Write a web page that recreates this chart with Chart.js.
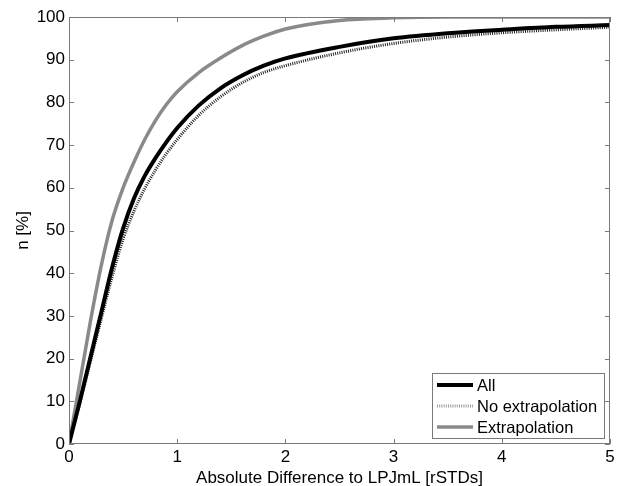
<!DOCTYPE html>
<html>
<head>
<meta charset="utf-8">
<script src="https://cdn.jsdelivr.net/npm/chart.js@4.4.1/dist/chart.umd.min.js"></script>
<style>
  html, body { margin: 0; padding: 0; background: #fff; }
  #wrap { width: 622px; height: 486px; }
</style>
</head>
<body>
<div id="wrap"><canvas id="cdf"></canvas></div>
<script>
// values
const xs = [0, 0.1, 0.2, 0.3, 0.4, 0.5, 0.6, 0.7, 0.8, 0.9, 1.0, 1.2, 1.4, 1.6, 1.8, 2.0, 2.5, 3.0, 3.5, 4.0, 4.5, 5.0];
const allVals = [0, 10, 20.5, 31, 41.5, 50.5, 57.5, 62.8, 67, 70.7, 74, 79.3, 83.3, 86.3, 88.6, 90.3, 93, 95, 96.2, 97, 97.7, 98.1];
const noExtrapVals = [0, 9.5, 19.5, 29.5, 39.3, 48, 54.5, 59.8, 64.2, 68, 71.3, 77, 81.3, 84.6, 87, 88.6, 91.6, 93.8, 95.3, 96.3, 97, 97.6];
const extrapVals = [0, 14.5, 29, 42, 52.5, 60, 66, 71.3, 75.8, 79.5, 82.5, 87, 90.4, 93.3, 95.5, 97.2, 99.2, 99.8, 100, 100, 100, 100];
const seriesNames = ["All", "No extrapolation", "Extrapolation"];
const xTicks = [0, 1, 2, 3, 4, 5];
const yTicks = [0, 10, 20, 30, 40, 50, 60, 70, 80, 90, 100];

const FONT = "'Liberation Sans', Arial, sans-serif";
const AXIS = "#7a7a7a";

const pts = (vals) => xs.map((x, i) => ({ x: x, y: vals[i] }));

// MATLAB style box with inward ticks, plus the legend inside the axes
const boxPlugin = {
    id: "box",
    afterDatasetsDraw(chart) {
        const { ctx, chartArea: a, scales } = chart;
        ctx.save();
        ctx.strokeStyle = AXIS;
        ctx.lineWidth = 1;
        ctx.strokeRect(a.left + 0.5, a.top + 0.5, a.right - a.left - 1, a.bottom - a.top - 1);
        ctx.beginPath();
        xTicks.forEach(v => {
            const px = Math.round(scales.x.getPixelForValue(v)) + 0.5;
            ctx.moveTo(px, a.bottom); ctx.lineTo(px, a.bottom - 5);
            ctx.moveTo(px, a.top); ctx.lineTo(px, a.top + 5);
        });
        yTicks.forEach(v => {
            const py = Math.round(scales.y.getPixelForValue(v)) + 0.5;
            ctx.moveTo(a.left, py); ctx.lineTo(a.left + 5, py);
            ctx.moveTo(a.right, py); ctx.lineTo(a.right - 5, py);
        });
        ctx.stroke();
        ctx.restore();
    },
    afterDraw(chart) {
        const { ctx, chartArea: a } = chart;
        const sets = chart.data.datasets;
        const left = a.left + 363, top = a.bottom - 71, right = a.right - 5, bottom = a.bottom - 5;
        ctx.save();
        ctx.fillStyle = "#fff";
        ctx.fillRect(left, top, right - left, bottom - top);
        ctx.strokeStyle = AXIS;
        ctx.lineWidth = 1;
        ctx.strokeRect(left + 0.5, top + 0.5, right - left - 1, bottom - top - 1);
        ctx.font = "16.5px " + FONT;
        ctx.textBaseline = "middle";
        ctx.fillStyle = "#000";
        sets.forEach((ds, i) => {
            const y = top + 12 + i * 21;
            ctx.beginPath();
            ctx.strokeStyle = ds.legendColor || ds.borderColor;
            ctx.lineWidth = ds.borderWidth;
            ctx.setLineDash(ds.borderDash || []);
            ctx.moveTo(left + 5, y);
            ctx.lineTo(left + 41, y);
            ctx.stroke();
            ctx.setLineDash([]);
            ctx.fillText(ds.label, left + 45, y + 1);
        });
        ctx.restore();
    }
};

new Chart(document.getElementById("cdf"), {
    type: "line",
    data: {
        datasets: [
            { label: seriesNames[0], data: pts(allVals), borderColor: "#000", borderWidth: 4 },
            { label: seriesNames[1], data: pts(noExtrapVals), borderColor: "#222", legendColor: "#999", borderWidth: 3, borderDash: [1, 1.2] },
            { label: seriesNames[2], data: pts(extrapVals), borderColor: "#8a8a8a", borderWidth: 3.5 }
        ]
    },
    options: {
        responsive: true,
        maintainAspectRatio: false,
        animation: false,
        layout: { padding: { top: 17, right: 12, left: 0, bottom: 0 } },
        elements: {
            point: { radius: 0 },
            line: { cubicInterpolationMode: "monotone", fill: false }
        },
        plugins: {
            legend: { display: false },
            tooltip: { enabled: false }
        },
        scales: {
            x: {
                type: "linear",
                min: 0, max: 5,
                afterFit: s => { s.height = 42; },
                afterBuildTicks: s => { s.ticks = xTicks.map(v => ({ value: v })); },
                grid: { display: false, drawTicks: false },
                border: { display: false },
                ticks: { color: "#000", padding: 3, font: { family: FONT, size: 17 } },
                title: {
                    display: true,
                    text: "Absolute Difference to LPJmL [rSTDs]",
                    color: "#000",
                    padding: { top: 0, bottom: 1 },
                    font: { family: FONT, size: 17, lineHeight: 0.82 }
                }
            },
            y: {
                min: 0, max: 100,
                afterFit: s => { s.width = 69; },
                afterBuildTicks: s => { s.ticks = yTicks.map(v => ({ value: v })); },
                grid: { display: false, drawTicks: false },
                border: { display: false },
                ticks: { color: "#000", padding: 4, font: { family: FONT, size: 17 } },
                title: {
                    display: true,
                    text: "n [%]",
                    color: "#000",
                    padding: { top: 13, bottom: 0 },
                    font: { family: FONT, size: 17 }
                }
            }
        }
    },
    plugins: [boxPlugin]
});
</script>
</body>
</html>
